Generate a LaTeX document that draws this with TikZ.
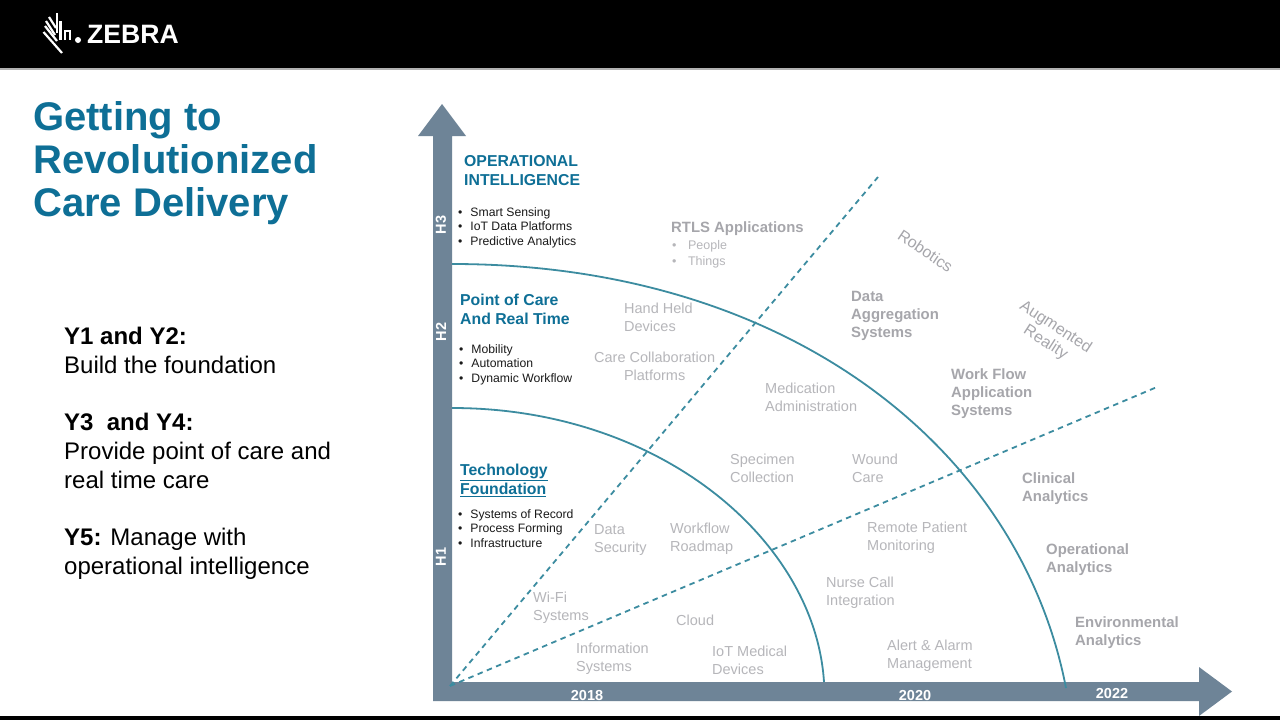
\documentclass[tikz,border=0pt]{standalone}
\usepackage{fontspec}
\setmainfont{Liberation Sans}
\definecolor{teal}{HTML}{0E6F96}
\definecolor{axisc}{HTML}{6E8497}
\definecolor{curvec}{HTML}{3C8CA0}
\definecolor{greytx}{HTML}{B6B6BA}
\definecolor{greybd}{HTML}{A6A6AB}
\definecolor{blacktx}{HTML}{1A1A1A}
\tikzset{
 x=1pt,y=-1pt,
 lbl/.style={inner sep=0pt,anchor=north west,align=left},
 titlet/.style={lbl,text=teal,font=\fontsize{40}{43}\selectfont\bfseries},
 lefttx/.style={lbl,text=black,font=\fontsize{24}{29}\selectfont},
 head/.style={lbl,text=teal,font=\fontsize{15.8}{19}\selectfont\bfseries},
 bul/.style={lbl,text=blacktx,font=\fontsize{12.2}{14.5}\selectfont},
 gr/.style={lbl,text=greytx,font=\fontsize{14.5}{18}\selectfont},
 grb/.style={lbl,text=greybd,font=\fontsize{14.9}{18}\selectfont\bfseries},
 tilt/.style={lbl,anchor=center,align=center,text=greybd,font=\fontsize{16}{18.5}\selectfont},
 axt/.style={inner sep=0pt,text=white,font=\fontsize{14.5}{15}\selectfont\bfseries},
 curve/.style={draw=curvec,line width=1.8pt},
 dash line/.style={draw=curvec,line width=1.8pt,dash pattern=on 5.5pt off 4.5pt},
 logostroke/.style={draw=white,line width=2.2pt},
}
\newcommand{\bl}{•\hspace{8pt}}
\begin{document}
\begin{tikzpicture}
\useasboundingbox (0,0) rectangle (1280,720);
\fill[white] (0,0) rectangle (1280,720);
\fill[black] (0,0) rectangle (1280,68);
\fill[black] (0,716) rectangle (1280,720);
\fill[gray!60] (0,68) rectangle (1280,69.5);
% logo
\draw[logostroke] (43.5,32) -- (62,53);
\draw[logostroke] (45,26) -- (57,41);
\draw[logostroke] (46,21) -- (55,35);
\draw[logostroke] (49,17) -- (56,28);
\draw[logostroke] (57,13) -- (57,33);
\draw[logostroke] (60.5,21) -- (60.5,40);
\draw[logostroke,line width=1.8pt] (65,40) -- (65,31) -- (70,31) -- (70,40);
\fill[white] (78,40) circle (3);
\node[lbl,anchor=west,text=white,font=\fontsize{26.6}{30}\selectfont\bfseries] (zebra) at (87,34) {ZEBRA};
% title
\node[titlet] (title) at (33,101.5) {Getting to\\Revolutionized\\Care Delivery};
% left text
\node[lefttx] (y1) at (64,327) {\textbf{Y1 and Y2:}\\Build the foundation};
\node[lefttx] (y3) at (64,413) {\textbf{Y3~ and Y4:}\\Provide point of care and\\real time care};
\node[lefttx] (y5) at (64,528) {\textbf{Y5:} Manage with\\operational intelligence};
% axes
\fill[axisc] (433,701) -- (433,136) -- (418,136) -- (442,104) -- (466,136) -- (452,136) -- (452,682) -- (1199,682) -- (1199,667) -- (1232,691.5) -- (1199,716) -- (1199,701) -- cycle;
% curves
\coordinate (o) at (450,686);
\coordinate (a1) at (452,408);
\coordinate (a2) at (824,682);
\coordinate (b1) at (452,264);
\coordinate (b2) at (1066,688);
\coordinate (d1) at (878,177);
\coordinate (d2) at (1157,387);
\draw[curve] (a1) .. controls (660,408) and (815,540) .. (a2);
\draw[curve] (b1) .. controls (790,264) and (1020,450) .. (b2);
\draw[dash line] (o) -- (d1);
\draw[dash line] (o) -- (d2);
% axis labels
\node[axt,rotate=90] (h3) at (441,225) {H3};
\node[axt,rotate=90] (h2) at (441,332) {H2};
\node[axt,rotate=90] (h1) at (441,557) {H1};
\node[axt] (y18) at (587,695.5) {2018};
\node[axt] (y20) at (915,695.5) {2020};
\node[axt] (y22) at (1112,694) {2022};
% headings
\node[head] (h-oi) at (464,155.5) {OPERATIONAL\\INTELLIGENCE};
\node[head] (h-pc) at (460,294) {Point of Care\\And Real Time};
\node[head] (h-tf) at (460,464) {\underline{Technology}\\\underline{Foundation}};
\node[bul] (b-oi) at (458,207) {\bl Smart Sensing\\\bl IoT Data Platforms\\\bl Predictive Analytics};
\node[bul] (b-pc) at (459,344) {\bl Mobility\\\bl Automation\\\bl Dynamic Workflow};
\node[bul] (b-tf) at (458,509) {\bl Systems of Record\\\bl Process Forming\\\bl Infrastructure};
% grey labels
\node[grb] (rtls) at (671,222) {RTLS Applications};
\node[lbl,text=greytx,font=\fontsize{12.5}{16}\selectfont] (rtlsb) at (672,240) {•\hspace{11.5pt}People\\•\hspace{11.5pt}Things};
\node[tilt,rotate=-34] (robot) at (925.5,251) {Robotics};
\node[tilt,rotate=-33] (ar) at (1050.5,335) {Augmented\\Reality};
\node[gr] (hh) at (624,302.5) {Hand Held\\Devices};
\node[gr,align=center] (cc) at (594,352) {Care Collaboration\\Platforms};
\node[grb] (da) at (851,291.5) {Data\\Aggregation\\Systems};
\node[grb] (wf) at (951,368.5) {Work Flow\\Application\\Systems};
\node[gr] (med) at (765,382.5) {Medication\\Administration};
\node[gr] (spec) at (730,453.5) {Specimen\\Collection};
\node[gr] (wound) at (852,453.5) {Wound\\Care};
\node[grb] (clin) at (1022,472.5) {Clinical\\Analytics};
\node[grb] (oper) at (1046,543.5) {Operational\\Analytics};
\node[grb] (env) at (1075,616.5) {Environmental\\Analytics};
\node[gr] (rpm) at (867,521.5) {Remote Patient\\Monitoring};
\node[gr] (nci) at (826,577) {Nurse Call\\Integration};
\node[gr] (alert) at (887,639.5) {Alert \& Alarm\\Management};
\node[gr] (ds) at (594,524.5) {Data\\Security};
\node[gr] (wr) at (670,523) {Workflow\\Roadmap};
\node[gr] (wifi) at (533,592) {Wi-Fi\\Systems};
\node[gr] (cloud) at (676,615) {Cloud};
\node[gr] (is) at (576,642.5) {Information\\Systems};
\node[gr] (iot) at (712,646) {IoT Medical\\Devices};
\end{tikzpicture}
\end{document}
